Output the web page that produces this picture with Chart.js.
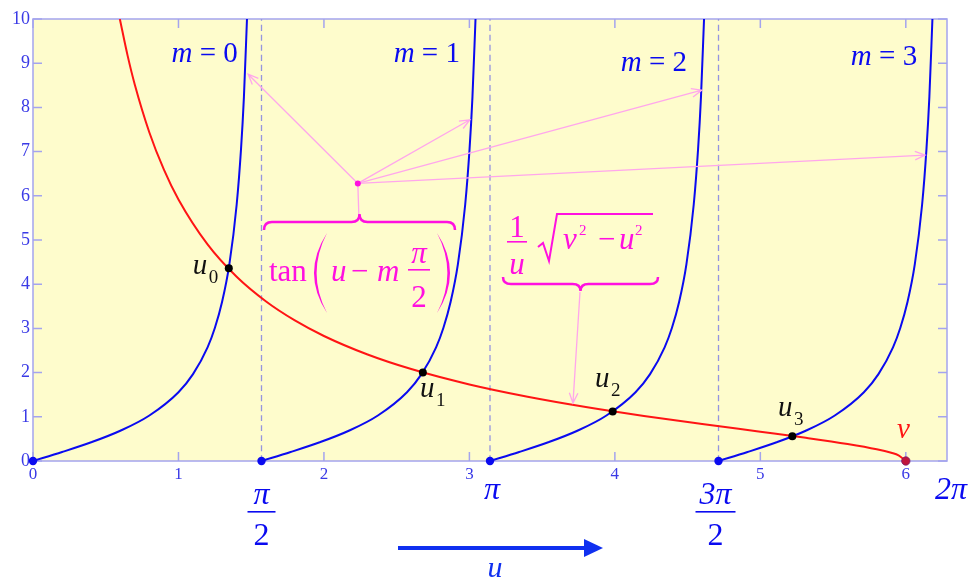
<!DOCTYPE html>
<html>
<head>
<meta charset="utf-8">
<script src="https://cdn.jsdelivr.net/npm/chart.js@4.4.1/dist/chart.umd.min.js"></script>
<style>
  html, body { margin: 0; padding: 0; background: #fff; }
  #wrap { width: 974px; height: 578px; }
</style>
</head>
<body>
<div id="wrap"><canvas id="myChart" width="974" height="578"></canvas></div>
<script>
// tan(u - m*pi/2) branches, one u list per m, same heights for each
let branch0U = [0, 0.2, 0.4, 0.6, 0.8, 1.0, 1.1, 1.2, 1.25, 1.3, 1.35, 1.4, 1.43, 1.45, 1.471];
let branch1U = [1.571, 1.771, 1.971, 2.171, 2.371, 2.571, 2.671, 2.771, 2.821, 2.871, 2.921, 2.971, 3.001, 3.021, 3.042];
let branch2U = [3.142, 3.342, 3.542, 3.742, 3.942, 4.142, 4.242, 4.342, 4.392, 4.442, 4.492, 4.542, 4.572, 4.592, 4.613];
let branch3U = [4.712, 4.912, 5.112, 5.312, 5.512, 5.712, 5.812, 5.912, 5.962, 6.012, 6.062, 6.112, 6.142, 6.162, 6.183];
let tanY = [0, 0.203, 0.423, 0.684, 1.030, 1.557, 1.965, 2.572, 3.010, 3.602, 4.455, 5.798, 7.055, 8.238, 10];

// red curve sqrt(v^2 - u^2)/u
let redU = [0.597, 0.65, 0.7, 0.8, 0.9, 1.0, 1.2, 1.4, 1.6, 1.8, 2.0, 2.3, 2.6, 3.0, 3.4, 3.8, 4.2, 4.6, 5.0, 5.3, 5.6, 5.8, 5.9, 5.95, 6.0];
let redV = [10.0, 9.177, 8.513, 7.433, 6.591, 5.916, 4.899, 4.167, 3.614, 3.180, 2.828, 2.409, 2.080, 1.732, 1.454, 1.222, 1.020, 0.838, 0.663, 0.531, 0.385, 0.265, 0.185, 0.130, 0];
let vValue = 6;

// crossings u0..u3
let rootU = [1.346, 2.680, 3.985, 5.220];
let rootY = [4.36, 2.00, 1.12, 0.56];
let rootNames = ["0", "1", "2", "3"];

let startU = [0, 1.5708, 3.1416, 4.7124];
let asymptotes = [1.5708, 3.1416, 4.7124];

let xTicks = [0, 1, 2, 3, 4, 5, 6];
let yTicks = [0, 1, 2, 3, 4, 5, 6, 7, 8, 9, 10];

let piTickVals = [1.5708, 3.1416, 4.7124, 6.2832];
let piTickNum = ["\u03c0", "\u03c0", "3\u03c0", "2\u03c0"];
let piTickDen = ["2", "", "2", ""];

let mNames = ["0", "1", "2", "3"];

const blue = "#0a0af0";
const red = "#ff1414";
const magenta = "#ff10e0";
const pink = "#ffa6ec";
const axisBlue = "#a4a4ee";
const tickText = "#3a3ae6";
const paper = "#fefccc";
const SERIF = '"Liberation Serif", "Times New Roman", serif';

function pts(xs, ys) {
  return xs.map((x, i) => ({ x: x, y: ys[i] }));
}

function rich(ctx, parts, x, y, align) {
  let w = 0;
  parts.forEach(p => { ctx.font = p[1]; w += ctx.measureText(p[0]).width; });
  let cx = align === "right" ? x - w : align === "center" ? x - w / 2 : x;
  parts.forEach(p => {
    ctx.font = p[1];
    ctx.fillText(p[0], cx, y);
    cx += ctx.measureText(p[0]).width;
  });
}

function arrow(ctx, x1, y1, x2, y2, head) {
  const a = Math.atan2(y2 - y1, x2 - x1);
  ctx.beginPath();
  ctx.moveTo(x1, y1);
  ctx.lineTo(x2, y2);
  ctx.moveTo(x2 - head * Math.cos(a - 0.4), y2 - head * Math.sin(a - 0.4));
  ctx.lineTo(x2, y2);
  ctx.lineTo(x2 - head * Math.cos(a + 0.4), y2 - head * Math.sin(a + 0.4));
  ctx.stroke();
}

// e = 1: ends curl down, tip up ; e = -1: ends up, tip down
function brace(ctx, x1, x2, y, h, e) {
  const xm = (x1 + x2) / 2, r = 8;
  ctx.beginPath();
  ctx.moveTo(x1, y + h * e);
  ctx.quadraticCurveTo(x1, y, x1 + r, y);
  ctx.lineTo(xm - r, y);
  ctx.quadraticCurveTo(xm, y, xm, y - h * e);
  ctx.quadraticCurveTo(xm, y, xm + r, y);
  ctx.lineTo(x2 - r, y);
  ctx.quadraticCurveTo(x2, y, x2, y + h * e);
  ctx.stroke();
}

function paren(ctx, x, yTop, yBot, bulge, thick) {
  const ym = (yTop + yBot) / 2;
  ctx.beginPath();
  ctx.moveTo(x, yTop);
  ctx.quadraticCurveTo(x + 2 * bulge, ym, x, yBot);
  ctx.quadraticCurveTo(x + 2 * (bulge - Math.sign(bulge) * thick), ym, x, yTop);
  ctx.fill();
}

const paperPlugin = {
  id: "paper",
  beforeDraw(chart) {
    const ctx = chart.ctx, a = chart.chartArea;
    ctx.save();
    ctx.fillStyle = "#fff";
    ctx.fillRect(0, 0, chart.width, chart.height);
    ctx.fillStyle = paper;
    ctx.fillRect(a.left, a.top, a.right - a.left, a.bottom - a.top);
    ctx.restore();
  },
  beforeDatasetsDraw(chart) {
    const ctx = chart.ctx, a = chart.chartArea;
    const xs = chart.scales.x, ys = chart.scales.y;
    ctx.save();
    ctx.strokeStyle = axisBlue;
    ctx.lineWidth = 1.5;
    ctx.strokeRect(a.left, a.top, a.right - a.left, a.bottom - a.top);
    ctx.beginPath();
    xTicks.forEach(v => {
      const x = xs.getPixelForValue(v);
      ctx.moveTo(x, a.bottom); ctx.lineTo(x, a.bottom - 9);
      ctx.moveTo(x, a.top); ctx.lineTo(x, a.top + 9);
    });
    yTicks.forEach(v => {
      const y = ys.getPixelForValue(v);
      ctx.moveTo(a.left, y); ctx.lineTo(a.left + 9, y);
      ctx.moveTo(a.right, y); ctx.lineTo(a.right - 9, y);
    });
    ctx.stroke();
    ctx.restore();
  }
};

const notesPlugin = {
  id: "notes",
  afterDatasetsDraw(chart) {
    const ctx = chart.ctx, a = chart.chartArea;
    const xs = chart.scales.x, ys = chart.scales.y;
    const px = v => xs.getPixelForValue(v);
    const py = v => ys.getPixelForValue(v);
    ctx.save();
    ctx.textAlign = "left";
    ctx.textBaseline = "alphabetic";

    // m = k labels
    const mPos = [[1.408, 9.02], [2.935, 9.02], [4.496, 8.82], [6.078, 8.95]];
    ctx.fillStyle = blue;
    mNames.forEach((m, i) => {
      rich(ctx, [["m", "italic 29px " + SERIF], [" = " + m, "29px " + SERIF]],
        px(mPos[i][0]), py(mPos[i][1]), "right");
    });

    // u_k labels
    const uPos = [[1.098, 4.224], [2.660, 1.441], [3.863, 1.667], [5.122, 1.011]];
    ctx.fillStyle = "#111";
    rootNames.forEach((n, i) => {
      const x = px(uPos[i][0]), y = py(uPos[i][1]);
      ctx.font = "italic 29px " + SERIF;
      ctx.fillText("u", x, y);
      ctx.font = "19px " + SERIF;
      ctx.fillText(n, x + 16, y + 9);
    });

    // v label
    ctx.fillStyle = red;
    ctx.font = "italic 29px " + SERIF;
    ctx.fillText("v", px(5.94), py(0.514));

    // pi labels below axis
    ctx.fillStyle = blue;
    ctx.textAlign = "center";
    const piShift = [0, 2, -3, 4];
    piTickVals.forEach((v, i) => {
      const x = px(v) + piShift[i];
      ctx.font = "italic 32px " + SERIF;
      if (piTickDen[i]) {
        ctx.fillText(piTickNum[i], x, a.bottom + 43);
        ctx.fillRect(x - 14 - (piTickNum[i].length - 1) * 6, a.bottom + 50, 28 + (piTickNum[i].length - 1) * 12, 1.6);
        ctx.font = "32px " + SERIF;
        ctx.fillText(piTickDen[i], x, a.bottom + 84);
      } else {
        ctx.fillText(piTickNum[i], x, a.bottom + 38);
      }
    });

    // u arrow at the bottom
    ctx.strokeStyle = "#1030f0";
    ctx.fillStyle = "#1030f0";
    ctx.lineWidth = 4;
    ctx.beginPath();
    ctx.moveTo(398, 548); ctx.lineTo(588, 548);
    ctx.stroke();
    ctx.beginPath();
    ctx.moveTo(584, 539); ctx.lineTo(603, 548); ctx.lineTo(584, 557);
    ctx.closePath();
    ctx.fill();
    ctx.font = "italic 30px " + SERIF;
    ctx.fillText("u", 495, 577);

    // pink pointers from the brace to the tan branches
    const ox = px(2.233), oy = py(6.28);
    const targets = [[1.479, 8.75], [3.003, 7.72], [4.597, 8.39], [6.133, 6.92]];
    ctx.strokeStyle = pink;
    ctx.lineWidth = 1.3;
    targets.forEach(t => arrow(ctx, ox, oy, px(t[0]), py(t[1]), 11));
    ctx.beginPath();
    ctx.moveTo(ox, oy); ctx.lineTo(ox + 1, 215);
    ctx.stroke();
    arrow(ctx, 580, 292, px(3.712), py(1.31), 11);
    ctx.fillStyle = magenta;
    ctx.beginPath();
    ctx.arc(ox, oy, 3, 0, Math.PI * 2);
    ctx.fill();

    // tan( u - m pi/2 )
    ctx.strokeStyle = magenta;
    ctx.fillStyle = magenta;
    ctx.lineWidth = 2.5;
    brace(ctx, 264, 455, 222, 8, 1);
    ctx.textAlign = "left";
    ctx.font = "31px " + SERIF;
    ctx.fillText("tan", 269, 281);
    paren(ctx, 327, 233, 313, -13, 2.6);
    paren(ctx, 437, 233, 313, 13, 2.6);
    ctx.font = "italic 31px " + SERIF;
    ctx.fillText("u", 331, 281);
    ctx.fillText("m", 377, 281);
    ctx.font = "31px " + SERIF;
    ctx.fillText("\u2212", 351, 281);
    ctx.textAlign = "center";
    ctx.font = "italic 31px " + SERIF;
    ctx.fillText("\u03c0", 419, 263);
    ctx.fillRect(408, 269, 22, 1.6);
    ctx.font = "31px " + SERIF;
    ctx.fillText("2", 419, 307);

    // 1/u sqrt(v^2 - u^2)
    brace(ctx, 503, 658, 284, 7, -1);
    ctx.font = "31px " + SERIF;
    ctx.fillText("1", 517, 237);
    ctx.fillRect(507, 241, 20, 1.6);
    ctx.font = "italic 31px " + SERIF;
    ctx.fillText("u", 517, 274);
    ctx.lineWidth = 2;
    ctx.beginPath();
    ctx.moveTo(538, 247); ctx.lineTo(543, 243); ctx.lineTo(549, 261);
    ctx.lineTo(557, 214); ctx.lineTo(653, 214);
    ctx.stroke();
    ctx.textAlign = "left";
    ctx.font = "italic 31px " + SERIF;
    ctx.fillText("v", 563, 249);
    ctx.fillText("u", 619, 249);
    ctx.font = "31px " + SERIF;
    ctx.fillText("\u2212", 598, 249);
    ctx.font = "15px " + SERIF;
    ctx.fillText("2", 579, 235);
    ctx.fillText("2", 635, 235);

    ctx.restore();
  }
};

const lineBase = {
  showLine: true,
  pointRadius: 0,
  pointHoverRadius: 0,
  borderWidth: 2,
  fill: false,
  cubicInterpolationMode: "monotone"
};

const branchSets = [branch0U, branch1U, branch2U, branch3U].map((us, i) => Object.assign({}, lineBase, {
  label: "m = " + i,
  data: pts(us, tanY),
  borderColor: blue,
  order: 2
}));

const dashSets = asymptotes.map(a => Object.assign({}, lineBase, {
  label: "asymptote",
  data: [{ x: a, y: 0 }, { x: a, y: 10 }],
  borderColor: "#9494e0",
  borderWidth: 1.3,
  borderDash: [6, 4],
  order: 4
}));

new Chart("myChart", {
  type: "scatter",
  data: {
    datasets: [
      { label: "roots", data: pts(rootU, rootY), pointRadius: 4, pointBackgroundColor: "#000", pointBorderWidth: 0, showLine: false, clip: false, order: 0 },
      { label: "starts", data: startU.map(u => ({ x: u, y: 0 })), pointRadius: 4.2, pointBackgroundColor: blue, pointBorderWidth: 0, showLine: false, clip: false, order: 0 },
      { label: "v", data: [{ x: vValue, y: 0 }], pointRadius: 4.2, pointBackgroundColor: "#c0143c", pointBorderColor: "#7a1a6a", pointBorderWidth: 0.8, showLine: false, clip: false, order: 0 },
      Object.assign({}, lineBase, { label: "sqrt", data: pts(redU, redV), borderColor: red, order: 1 }),
      ...branchSets,
      ...dashSets
    ]
  },
  options: {
    responsive: false,
    animation: false,
    events: [],
    layout: { padding: { top: 19, right: 27, left: 0, bottom: 0 } },
    plugins: {
      legend: { display: false },
      tooltip: { enabled: false }
    },
    scales: {
      x: {
        type: "linear",
        min: 0,
        max: 6.2832,
        afterBuildTicks: s => { s.ticks = xTicks.map(v => ({ value: v })); },
        afterFit: s => { s.height = 117; },
        grid: { display: false, drawTicks: false },
        border: { display: false },
        ticks: { color: tickText, padding: 3, maxRotation: 0, autoSkip: false, font: { family: SERIF, size: 17 } }
      },
      y: {
        min: 0,
        max: 10,
        afterBuildTicks: s => { s.ticks = yTicks.map(v => ({ value: v })); },
        afterFit: s => { s.width = 33; },
        grid: { display: false, drawTicks: false },
        border: { display: false },
        ticks: { color: tickText, padding: 3, autoSkip: false, font: { family: SERIF, size: 18 } }
      }
    }
  },
  plugins: [paperPlugin, notesPlugin]
});
</script>
</body>
</html>
